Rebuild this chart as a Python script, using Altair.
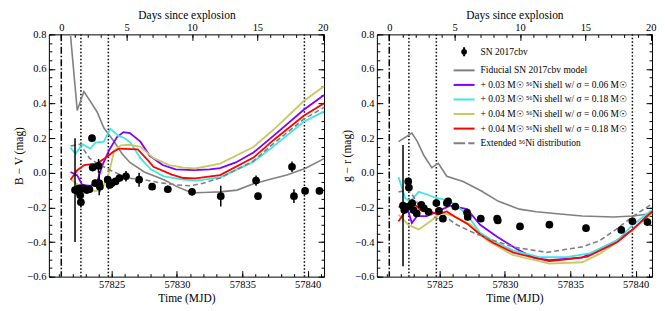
import altair as alt
import pandas as pd

FONT = "Liberation Serif"
EXPL = 57821.15            # explosion epoch (MJD), day 0 of the top axis
XMIN, XMAX = 57820.2, 57841.25
YMIN, YMAX = -0.6, 0.8

# ---------------- legend / series ----------------
S_OBS = "SN 2017cbv"
S_FID = "Fiducial SN 2017cbv model"
S_P = "+ 0.03 M☉ ⁵⁶Ni shell w/ σ = 0.06 M☉"
S_C = "+ 0.03 M☉ ⁵⁶Ni shell w/ σ = 0.18 M☉"
S_Y = "+ 0.04 M☉ ⁵⁶Ni shell w/ σ = 0.06 M☉"
S_R = "+ 0.04 M☉ ⁵⁶Ni shell w/ σ = 0.18 M☉"
S_EXT = "Extended ⁵⁶Ni distribution"
series_names = [S_OBS, S_FID, S_P, S_C, S_Y, S_R, S_EXT]
series_colors = ["#000000", "#808080", "#8000ff", "#3ee6e6", "#c8c864", "#ff0000", "#808080"]
legend_shapes = [
    "M0,-0.6V0.6M-0.25,0a0.25,0.25 0 1,0 0.5,0a0.25,0.25 0 1,0 -0.5,0",
    "M-1.4,0H1.4", "M-1.4,0H1.4", "M-1.4,0H1.4", "M-1.4,0H1.4", "M-1.4,0H1.4",
    "M-1.4,0H0.15M0.55,0H1.4",
]
COL = dict(zip(series_names, series_colors))

# ---------------- epochs (vertical lines) ----------------
epoch_dashdot = [57821.15]
epoch_dotted = [57822.65, 57824.75, 57839.75]

# ---------------- B - V panel ----------------
bv_fid_t = [57821.86, 57822.37, 57822.88, 57823.4, 57823.9, 57824.4, 57824.8, 57825.2, 57825.8,
            57826.4, 57827.5, 57829.0, 57830.0, 57830.8, 57831.5, 57832.5, 57833.3, 57834.6,
            57835.8, 57837.0, 57838.4, 57839.8, 57841.25]
bv_fid_v = [0.79, 0.36, 0.47, 0.41, 0.35, 0.26, 0.22, 0.18, 0.11, 0.06, 0.005, -0.04, -0.08,
            -0.105, -0.115, -0.112, -0.11, -0.10, -0.065, -0.04, -0.013, 0.025, 0.082]

bv_p_t = [57821.86, 57822.37, 57822.75, 57823.4, 57823.9, 57824.3, 57824.8, 57825.4, 57825.9,
          57826.4, 57827.2, 57827.9, 57828.9, 57829.9, 57831.3, 57832.5, 57833.3, 57834.5,
          57835.85, 57837.4, 57839.7, 57841.25]
bv_p_v = [0.005, -0.015, -0.07, -0.075, -0.05, 0.045, 0.13, 0.205, 0.235, 0.23, 0.18, 0.10,
          0.045, 0.02, 0.015, 0.02, 0.027, 0.06, 0.117, 0.215, 0.364, 0.45]

bv_c_t = [57821.86, 57822.24, 57822.75, 57823.38, 57823.76, 57824.4, 57824.9, 57825.5, 57826.0,
          57826.44, 57827.2, 57828.0, 57829.0, 57830.5, 57831.5, 57833.3, 57835.85, 57837.5,
          57839.7, 57841.25]
bv_c_v = [0.145, 0.11, 0.165, 0.14, 0.175, 0.18, 0.255, 0.215, 0.2, 0.175, 0.085, 0.02, -0.02,
          -0.04, -0.045, -0.026, 0.063, 0.16, 0.295, 0.355]

bv_y_t = [57821.86, 57822.6, 57823.1, 57823.9, 57824.3, 57824.8, 57825.2, 57825.7, 57826.4,
          57827.2, 57828.2, 57829.4, 57830.5, 57831.4, 57833.3, 57835.85, 57837.4, 57839.7, 57841.25]
bv_y_v = [-0.035, -0.08, -0.105, -0.105, -0.09, 0.0, 0.13, 0.158, 0.162, 0.15, 0.085, 0.045,
          0.03, 0.025, 0.053, 0.149, 0.25, 0.415, 0.50]

bv_r_t = [57821.86, 57822.37, 57822.9, 57823.9, 57824.6, 57825.1, 57825.6, 57827.0, 57827.8,
          57828.2, 57829.6, 57830.5, 57831.4, 57833.3, 57835.85, 57837.4, 57839.7, 57841.25]
bv_r_v = [-0.04, 0.015, 0.045, 0.055, 0.09, 0.12, 0.14, 0.135, 0.07, 0.035, -0.01, -0.03,
          -0.032, -0.013, 0.088, 0.19, 0.33, 0.402]

bv_ext_t = [57821.86, 57822.6, 57823.3, 57823.9, 57824.9, 57826.2, 57827.5, 57828.5, 57830.0,
            57831.0, 57832.0, 57833.3, 57835.85, 57837.4, 57839.7, 57841.25]
bv_ext_v = [0.155, 0.165, 0.085, 0.055, 0.015, -0.03, -0.04, -0.055, -0.07, -0.075, -0.06,
            -0.03, 0.068, 0.17, 0.31, 0.378]

bv_obs_t = [57822.2, 57822.35, 57822.55, 57822.6, 57822.65, 57822.85, 57823.1, 57823.3, 57823.5,
            57823.55, 57823.75, 57824.0, 57824.05, 57824.1, 57824.7, 57824.85, 57825.0, 57825.3,
            57825.6, 57826.1, 57827.1, 57828.1, 57829.3, 57831.15, 57833.35, 57836.05, 57836.2,
            57838.8, 57838.95, 57839.8, 57840.9]
bv_obs_v = [-0.10, -0.10, -0.09, -0.13, -0.17, -0.09, -0.10, -0.095, 0.20, 0.03, -0.06, 0.04,
            -0.06, -0.08, -0.04, -0.07, -0.06, -0.05, -0.03, -0.02, -0.04, -0.08, -0.095, -0.11,
            -0.135, -0.045, -0.135, 0.035, -0.135, -0.105, -0.105]
bv_obs_e = [0.30, 0.03, 0.02, 0.02, 0.03, 0.02, 0.02, 0.02, 0.01, 0.02, 0.02, 0.04, 0.07, 0.03,
            0.02, 0.02, 0.02, 0.02, 0.02, 0.03, 0.04, 0.02, 0.02, 0.02, 0.06, 0.03, 0.02, 0.03,
            0.04, 0.02, 0.02]

# ---------------- g - r panel ----------------
gr_fid_t = [57821.86, 57822.88, 57823.3, 57823.8, 57824.4, 57824.9, 57825.55, 57826.8, 57828.2,
            57829.5, 57831.1, 57832.4, 57833.8, 57835.9, 57838.3, 57839.8, 57841.25]
gr_fid_v = [0.18, 0.23, 0.18, 0.10, 0.03, 0.055, -0.02, -0.05, -0.105, -0.165, -0.21, -0.225,
            -0.235, -0.25, -0.255, -0.25, -0.235]

gr_p_t = [57821.86, 57822.5, 57822.88, 57823.27, 57824.0, 57824.65, 57825.8, 57827.1, 57828.1,
          57829.4, 57830.9, 57832.2, 57833.4, 57835.9, 57838.5, 57839.8, 57841.25]
gr_p_v = [-0.195, -0.2, -0.29, -0.25, -0.25, -0.23, -0.19, -0.21, -0.30, -0.37, -0.44, -0.49,
          -0.505, -0.49, -0.394, -0.327, -0.22]

gr_c_t = [57821.86, 57822.37, 57822.75, 57823.4, 57824.0, 57824.8, 57825.55, 57826.2, 57827.1,
          57828.1, 57829.1, 57830.64, 57832.7, 57834.7, 57836.5, 57838.6, 57839.8, 57841.25]
gr_c_v = [-0.025, -0.147, -0.166, -0.11, -0.124, -0.147, -0.157, -0.185, -0.242, -0.347, -0.394,
          -0.45, -0.488, -0.487, -0.465, -0.39, -0.30, -0.215]

gr_y_t = [57821.86, 57822.6, 57823.4, 57824.3, 57825.1, 57826.1, 57827.4, 57828.6, 57830.6,
          57833.4, 57835.9, 57837.2, 57838.5, 57839.8, 57841.25]
gr_y_v = [-0.242, -0.30, -0.327, -0.28, -0.23, -0.25, -0.30, -0.39, -0.475, -0.525, -0.517,
          -0.47, -0.404, -0.327, -0.232]

gr_r_t = [57821.86, 57822.37, 57822.88, 57823.5, 57824.3, 57824.8, 57825.55, 57826.2, 57827.1,
          57828.1, 57829.1, 57830.64, 57832.7, 57833.4, 57834.7, 57836.3, 57838.6, 57839.8, 57841.25]
gr_r_v = [-0.28, -0.223, -0.166, -0.213, -0.223, -0.24, -0.223, -0.256, -0.294, -0.356, -0.404,
          -0.461, -0.499, -0.51, -0.50, -0.485, -0.40, -0.325, -0.225]

gr_ext_t = [57821.86, 57822.6, 57823.0, 57823.5, 57824.8, 57825.55, 57826.3, 57827.6, 57828.9,
            57830.7, 57833.2, 57834.7, 57835.9, 57837.2, 57838.5, 57839.8, 57841.25]
gr_ext_v = [-0.11, -0.10, -0.137, -0.2, -0.265, -0.26, -0.30, -0.347, -0.385, -0.43, -0.46,
            -0.442, -0.428, -0.394, -0.327, -0.251, -0.18]

gr_obs_t = [57822.2, 57822.3, 57822.6, 57822.65, 57822.6, 57822.9, 57823.0, 57823.25, 57823.6,
            57823.8, 57824.15, 57824.75, 57824.95, 57825.25, 57825.55, 57825.65, 57826.2, 57827.1,
            57827.15, 57828.15, 57829.4, 57829.45, 57831.15, 57833.4, 57836.2, 57838.9, 57839.75,
            57840.9]
gr_obs_v = [-0.19, -0.215, -0.05, -0.085, -0.195, -0.175, -0.215, -0.235, -0.185, -0.205, -0.225,
            -0.175, -0.22, -0.265, -0.175, -0.165, -0.195, -0.23, -0.255, -0.265, -0.265, -0.275,
            -0.31, -0.30, -0.32, -0.33, -0.28, -0.285]
gr_obs_e = [0.35, 0.02, 0.02, 0.02, 0.02, 0.02, 0.02, 0.02, 0.02, 0.02, 0.02, 0.02, 0.02, 0.02,
            0.02, 0.02, 0.02, 0.02, 0.02, 0.02, 0.02, 0.02, 0.02, 0.02, 0.02, 0.02, 0.02, 0.02]

# ---------------- axis tick positions ----------------
x_major = [57825, 57830, 57835, 57840]
x_minor = list(range(57821, 57842))
day_major = [0, 5, 10, 15, 20]
day_minor = list(range(0, 21))
y_major = [-0.6, -0.4, -0.2, 0.0, 0.2, 0.4, 0.6, 0.8]
y_minor = [round(-0.6 + 0.05 * i, 2) for i in range(29)]

W, H = 276, 243


def tick_axis(orient, values, size):
    return alt.Axis(orient=orient, values=values, labels=False, domain=False, ticks=True,
                    tickSize=size, offset=-size, title=None, grid=False,
                    tickColor="black", tickWidth=1)


def panel(fid_t, fid_v, models, ext_t, ext_v, obs_t, obs_v, obs_e, ytitle, legend):
    xs = alt.Scale(domain=[XMIN, XMAX], nice=False, zero=False)
    ys = alt.Scale(domain=[YMIN, YMAX], nice=False, zero=False)

    obs = pd.DataFrame({"t": obs_t, "v": obs_v, "e": obs_e})
    fid = pd.DataFrame({"t": fid_t, "v": fid_v})
    ext = pd.DataFrame({"t": ext_t, "v": ext_v})

    X = lambda ax=None: alt.X("t:Q", scale=xs, axis=ax)
    Y = lambda ax=None: alt.Y("v:Q", scale=ys, axis=ax)

    def carrier(xax, yax):
        return alt.Chart(obs).mark_point(opacity=0).encode(x=X(xax), y=Y(yax))

    top_vals = [round(EXPL + d, 2) for d in day_major]
    top_minor = [round(EXPL + d, 2) for d in day_minor]

    ax_bottom = alt.Axis(orient="bottom", values=x_major, format="d", ticks=False, domain=False,
                         grid=False, labelPadding=3, labelFlush=False, labelOverlap=False,
                         title="Time (MJD)", titlePadding=2)
    ax_top = alt.Axis(orient="top", values=top_vals,
                      labelExpr=f"format(round(datum.value - {EXPL}), 'd')",
                      ticks=False, domain=False, grid=False, labelPadding=2, labelFlush=False,
                      labelOverlap=False, title="Days since explosion", titlePadding=2)
    ax_left = alt.Axis(orient="left", values=y_major, format=".1f", ticks=False, domain=False,
                       grid=False, labelPadding=3, labelFlush=False, labelOverlap=False,
                       title=ytitle, titlePadding=2)

    layers = [
        carrier(ax_bottom, ax_left),
        carrier(tick_axis("bottom", x_major, 6), tick_axis("left", y_major, 6)),
        carrier(tick_axis("bottom", x_minor, 3), tick_axis("left", y_minor, 3)),
        carrier(ax_top, tick_axis("right", y_major, 6)),
        carrier(tick_axis("top", top_vals, 6), tick_axis("right", y_minor, 3)),
        alt.Chart(obs).mark_point(opacity=0).encode(x=X(tick_axis("top", top_minor, 3)), y=Y()),
        # epochs
        alt.Chart(pd.DataFrame({"t": epoch_dashdot})).mark_rule(
            color="black", strokeWidth=1.5, strokeDash=[7, 2, 1.5, 2]).encode(x=X()),
        alt.Chart(pd.DataFrame({"t": epoch_dotted})).mark_rule(
            color="black", strokeWidth=1.5, strokeDash=[1.5, 2]).encode(x=X()),
        # fiducial model
        alt.Chart(fid).mark_line(color=COL[S_FID], strokeWidth=1.6).encode(x=X(), y=Y()),
    ]
    # shell models, one line each
    for name, t, v in models:
        layers.append(
            alt.Chart(pd.DataFrame({"t": t, "v": v})).mark_line(
                color=COL[name], strokeWidth=1.8).encode(x=X(), y=Y(), order="t:Q"))
    layers += [
        # extended distribution
        alt.Chart(ext).mark_line(color=COL[S_EXT], strokeWidth=1.6, strokeDash=[5, 3]).encode(
            x=X(), y=Y()),
        # observations
        alt.Chart(obs).transform_calculate(lo="datum.v - datum.e", hi="datum.v + datum.e")
        .mark_rule(color="black", strokeWidth=1.5).encode(
            x=X(), y=alt.Y("lo:Q", scale=ys, axis=None), y2="hi:Q"),
        alt.Chart(obs).mark_circle(size=60, color="black", opacity=1).encode(x=X(), y=Y()),
    ]
    if legend:
        leg = alt.Legend(orient="none", legendX=79, legendY=9, title=None, padding=0,
                         labelFont=FONT, labelFontSize=9.5, labelColor="black",
                         labelLimit=400, labelOffset=8, symbolSize=225,
                         symbolStrokeWidth=2, rowPadding=1.6, symbolOpacity=1)
        ldf = pd.DataFrame({"series": series_names})
        layers.append(
            alt.Chart(ldf).transform_filter("false").mark_point(filled=False, opacity=1).encode(
                color=alt.Color("series:N",
                                scale=alt.Scale(domain=series_names, range=series_colors),
                                legend=leg),
                shape=alt.Shape("series:N",
                                scale=alt.Scale(domain=series_names, range=legend_shapes),
                                legend=leg)))
    return alt.layer(*layers).resolve_axis(x="independent", y="independent").properties(
        width=W, height=H)


left = panel(bv_fid_t, bv_fid_v,
             [(S_P, bv_p_t, bv_p_v), (S_C, bv_c_t, bv_c_v), (S_Y, bv_y_t, bv_y_v),
              (S_R, bv_r_t, bv_r_v)],
             bv_ext_t, bv_ext_v, bv_obs_t, bv_obs_v, bv_obs_e, "B − V (mag)", False)
right = panel(gr_fid_t, gr_fid_v,
              [(S_P, gr_p_t, gr_p_v), (S_C, gr_c_t, gr_c_v), (S_Y, gr_y_t, gr_y_v),
               (S_R, gr_r_t, gr_r_v)],
              gr_ext_t, gr_ext_v, gr_obs_t, gr_obs_v, gr_obs_e, "g − r (mag)", True)

chart = alt.hconcat(left, right, spacing=12).resolve_scale(
    color="independent", shape="independent"
).resolve_legend(
    color="independent", shape="independent"
).properties(
    padding={"left": 5, "top": 0, "right": 0, "bottom": 0}
).configure_view(
    stroke="black", strokeWidth=1
).configure_axis(
    labelFont=FONT, titleFont=FONT, labelFontSize=10.5, titleFontSize=11.5,
    titleFontWeight="normal", labelColor="black", titleColor="black"
)

chart.save("out.html", embed_options={"renderer": "svg", "actions": False})
